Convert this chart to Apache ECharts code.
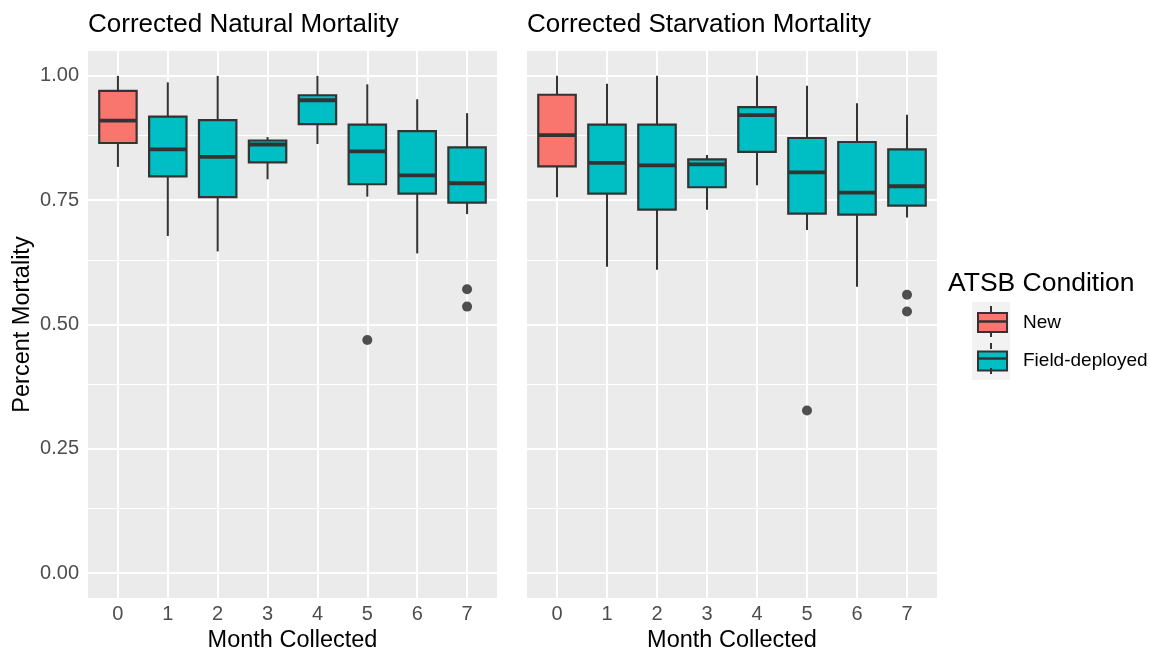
<!DOCTYPE html>
<html>
<head>
<meta charset="utf-8">
<script src="https://cdn.jsdelivr.net/npm/echarts@6/dist/echarts.min.js"></script>
<style>html,body{margin:0;padding:0;background:#fff}#c{width:1149px;height:655px}</style>
</head>
<body>
<div id="c"></div>
<script>
// ---- data ----
const months = [0, 1, 2, 3, 4, 5, 6, 7];
const conditions = ['New', 'Field-deployed', 'Field-deployed', 'Field-deployed', 'Field-deployed', 'Field-deployed', 'Field-deployed', 'Field-deployed'];
const yTicks = [0, 0.25, 0.5, 0.75, 1.0];
const yMinor = [0.125, 0.375, 0.625, 0.875];

// Corrected Natural Mortality
const natLow  = [0.817, 0.678, 0.647, 0.792, 0.863, 0.757, 0.643, 0.722];
const natQ1   = [0.865, 0.798, 0.756, 0.826, 0.903, 0.782, 0.763, 0.745];
const natMed  = [0.910, 0.852, 0.837, 0.862, 0.951, 0.848, 0.800, 0.784];
const natQ3   = [0.970, 0.918, 0.911, 0.870, 0.961, 0.902, 0.889, 0.856];
const natHigh = [1.000, 0.987, 1.000, 0.877, 1.000, 0.983, 0.953, 0.925];
const natOutMonth = [5, 7, 7];
const natOutValue = [0.469, 0.571, 0.536];

// Corrected Starvation Mortality
const staLow  = [0.756, 0.616, 0.610, 0.731, 0.780, 0.690, 0.576, 0.715];
const staQ1   = [0.818, 0.763, 0.731, 0.776, 0.847, 0.723, 0.721, 0.739];
const staMed  = [0.881, 0.825, 0.820, 0.822, 0.921, 0.806, 0.765, 0.778];
const staQ3   = [0.962, 0.902, 0.902, 0.832, 0.937, 0.875, 0.867, 0.852];
const staHigh = [1.000, 0.984, 1.000, 0.841, 1.000, 0.980, 0.945, 0.922];
const staOutMonth = [5, 7, 7];
const staOutValue = [0.327, 0.560, 0.526];

const panelTitles = ['Corrected Natural Mortality', 'Corrected Starvation Mortality'];
const legendTitle = 'ATSB Condition';
const legendNames = ['New', 'Field-deployed'];

// ---- styling ----
const FONT = 'Liberation Sans, Arial, Helvetica, sans-serif';
const COLORS = { 'New': '#F8766D', 'Field-deployed': '#00BFC4' };
const DARK = '#333333';
const BOX_W = 0.75;

const chart = echarts.init(document.getElementById('c'), null, { renderer: 'canvas' });

function renderBox(params, api) {
  const x = api.value(0);
  const lo = api.coord([x, api.value(1)]);
  const q1 = api.coord([x, api.value(2)]);
  const md = api.coord([x, api.value(3)]);
  const q3 = api.coord([x, api.value(4)]);
  const hi = api.coord([x, api.value(5)]);
  const w = api.size([BOX_W, 0])[0];
  const color = api.visual('color');
  return {
    type: 'group',
    children: [
      { type: 'line', shape: { x1: lo[0], y1: lo[1], x2: q1[0], y2: q1[1] }, style: { stroke: DARK, lineWidth: 2 } },
      { type: 'line', shape: { x1: q3[0], y1: q3[1], x2: hi[0], y2: hi[1] }, style: { stroke: DARK, lineWidth: 2 } },
      { type: 'rect', shape: { x: q3[0] - w / 2, y: q3[1], width: w, height: q1[1] - q3[1] }, style: { fill: color, stroke: DARK, lineWidth: 2.2 } },
      { type: 'line', shape: { x1: md[0] - w / 2, y1: md[1], x2: md[0] + w / 2, y2: md[1] }, style: { stroke: DARK, lineWidth: 3.8 } }
    ]
  };
}

function boxData(cond, low, q1, med, q3, high) {
  const out = [];
  months.forEach((m, i) => {
    if (conditions[i] === cond) out.push([m, low[i], q1[i], med[i], q3[i], high[i]]);
  });
  return out;
}

const panels = [
  { low: natLow, q1: natQ1, med: natMed, q3: natQ3, high: natHigh, om: natOutMonth, ov: natOutValue },
  { low: staLow, q1: staQ1, med: staMed, q3: staQ3, high: staHigh, om: staOutMonth, ov: staOutValue }
];

const grids = [
  { left: 88, top: 51, width: 409, height: 547, show: true, backgroundColor: '#EBEBEB', borderWidth: 0, containLabel: false, outerBoundsMode: 'none' },
  { left: 527, top: 51, width: 410, height: 547, show: true, backgroundColor: '#EBEBEB', borderWidth: 0, containLabel: false, outerBoundsMode: 'none' }
];

const xAxes = grids.map((g, i) => ({
  type: 'value', gridIndex: i, min: -0.6, max: 7.6,
  name: 'Month Collected', nameLocation: 'middle', nameGap: 30,
  nameTextStyle: { fontFamily: FONT, fontSize: 23.5, color: '#000' },
  axisLine: { show: false },
  axisTick: { show: true, customValues: months, length: 4, lineStyle: { color: DARK, width: 1.5 } },
  axisLabel: { customValues: months, margin: 6, fontFamily: FONT, fontSize: 20, color: '#4D4D4D' },
  splitLine: { show: false }
}));

const yAxes = grids.map((g, i) => ({
  type: 'value', gridIndex: i, min: -0.05, max: 1.05,
  name: i === 0 ? 'Percent Mortality' : '', nameLocation: 'middle', nameGap: 53,
  nameTextStyle: { fontFamily: FONT, fontSize: 23.5, color: '#000' },
  axisLine: { show: false },
  axisTick: { show: true, customValues: yTicks, length: 4, lineStyle: { color: DARK, width: 1.5 } },
  axisLabel: { show: i === 0, customValues: yTicks, margin: 9, fontFamily: FONT, fontSize: 20, color: '#4D4D4D',
               formatter: v => Number(v).toFixed(2) },
  splitLine: { show: false }
}));

const series = [];
panels.forEach((p, i) => {
  // panel gridlines
  const gl = [];
  yMinor.forEach(v => gl.push({ yAxis: v, lineStyle: { width: 1, color: '#fff', type: 'solid' } }));
  yTicks.forEach(v => gl.push({ yAxis: v, lineStyle: { width: 2, color: '#fff', type: 'solid' } }));
  months.forEach(v => gl.push({ xAxis: v, lineStyle: { width: 2, color: '#fff', type: 'solid' } }));
  series.push({
    type: 'scatter', xAxisIndex: i, yAxisIndex: i, data: [], z: 1, silent: true,
    markLine: { silent: true, z: 1, symbol: ['none', 'none'], label: { show: false }, animation: false, data: gl }
  });
  legendNames.forEach(cond => {
    series.push({
      type: 'custom', name: cond, xAxisIndex: i, yAxisIndex: i, z: 10,
      itemStyle: { color: COLORS[cond] },
      renderItem: renderBox,
      encode: { x: 0, y: [1, 2, 3, 4, 5] },
      data: boxData(cond, p.low, p.q1, p.med, p.q3, p.high)
    });
  });
  series.push({
    type: 'scatter', xAxisIndex: i, yAxisIndex: i, z: 11, symbolSize: 10,
    itemStyle: { color: '#262626' },
    data: p.om.map((m, k) => [m, p.ov[k]])
  });
});

const LX = 991; // legend key centre x
const option = {
  animation: false,
  backgroundColor: '#ffffff',
  title: [
    { text: panelTitles[0], left: 88, top: 12, padding: 0, textStyle: { fontFamily: FONT, fontSize: 26, fontWeight: 'normal', color: '#000' } },
    { text: panelTitles[1], left: 527, top: 12, padding: 0, textStyle: { fontFamily: FONT, fontSize: 26, fontWeight: 'normal', color: '#000' } },
    { text: legendTitle, left: 948, top: 270, padding: 0, textStyle: { fontFamily: FONT, fontSize: 26.5, fontWeight: 'normal', color: '#000' } }
  ],
  legend: {
    data: legendNames, orient: 'vertical', left: 977, top: 312, padding: 0,
    itemWidth: 29, itemHeight: 19, itemGap: 17.6, icon: 'rect',
    itemStyle: { borderColor: DARK, borderWidth: 2 },
    textStyle: { fontFamily: FONT, fontSize: 19, color: '#000', padding: [0, 0, 0, 11] },
    selectedMode: false
  },
  graphic: [
    { type: 'rect', z: -10, shape: { x: 972, y: 302, width: 38, height: 78 }, style: { fill: '#F2F2F2' } },
    { type: 'line', z: 100, shape: { x1: LX, y1: 306, x2: LX, y2: 312 }, style: { stroke: DARK, lineWidth: 2 } },
    { type: 'line', z: 100, shape: { x1: LX, y1: 331, x2: LX, y2: 337 }, style: { stroke: DARK, lineWidth: 2 } },
    { type: 'line', z: 100, shape: { x1: 977, y1: 321.5, x2: 1006, y2: 321.5 }, style: { stroke: DARK, lineWidth: 2.5 } },
    { type: 'line', z: 100, shape: { x1: LX, y1: 343, x2: LX, y2: 349 }, style: { stroke: DARK, lineWidth: 2 } },
    { type: 'line', z: 100, shape: { x1: LX, y1: 368, x2: LX, y2: 374 }, style: { stroke: DARK, lineWidth: 2 } },
    { type: 'line', z: 100, shape: { x1: 977, y1: 358.5, x2: 1006, y2: 358.5 }, style: { stroke: DARK, lineWidth: 2.5 } }
  ],
  grid: grids,
  xAxis: xAxes,
  yAxis: yAxes,
  series: series
};
chart.setOption(option);
</script>
</body>
</html>
